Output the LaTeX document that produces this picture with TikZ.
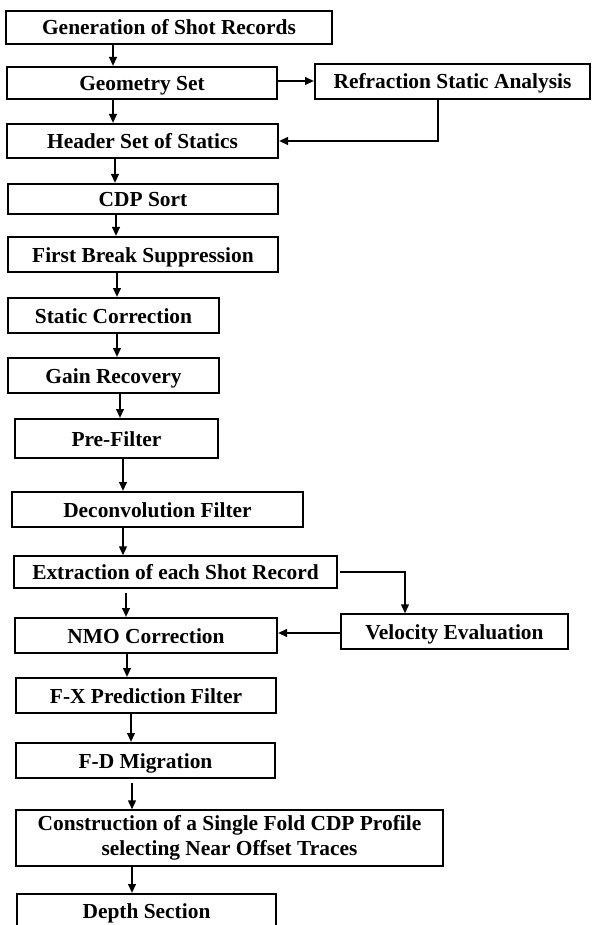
\documentclass[tikz,border=0pt]{standalone}
\usepackage{fontspec}
\setmainfont{Liberation Serif}
\usetikzlibrary{arrows.meta, positioning}

\begin{document}
\begin{tikzpicture}[x=0.5pt, y=-0.5pt,
			->,
			>={Triangle[length=4.5pt, width=3.8pt]},
			line width=1pt,
			box/.style={draw, inner sep=0pt, align=center, text height=8pt, text depth=0.5pt, font=\fontsize{10.7}{12.5}\selectfont\bfseries},
			thinbox/.style={box, line width=0.6pt}]

			\clip (0,0) rectangle (592,925);

			\node[box, minimum width=163pt, minimum height=16.5pt] (gen) at (169,27.5) {Generation of Shot Records};
			\node[box, minimum width=135pt, minimum height=16pt] (geom) at (142,83) {Geometry Set};
			\node[box, minimum width=137.5pt, minimum height=17.5pt] (refr) at (452.5,81.5) {Refraction Static Analysis};
			\node[box, minimum width=135.5pt, minimum height=17pt] (head) at (142.5,141) {Header Set of Statics};
			\node[box, minimum width=135pt, minimum height=15pt] (cdp) at (143,199) {CDP Sort};
			\node[box, minimum width=135pt, minimum height=17.5pt] (first) at (143,254.5) {First Break Suppression};
			\node[box, minimum width=105.5pt, minimum height=17.5pt] (stat) at (113.5,315.5) {Static Correction};
			\node[box, minimum width=105.5pt, minimum height=17.5pt] (gain) at (113.5,375.5) {Gain Recovery};
			\node[box, minimum width=101.5pt, minimum height=19.5pt] (pre) at (116.5,438.5) {Pre-Filter};
			\node[box, minimum width=145.5pt, minimum height=17.5pt] (decon) at (157.5,509.5) {Deconvolution Filter};
			\node[thinbox, minimum width=161.5pt, minimum height=16pt] (extr) at (175.5,572) {Extraction of each Shot Record};
			\node[box, minimum width=131pt, minimum height=17.5pt] (nmo) at (146,635.5) {NMO Correction};
			\node[thinbox, minimum width=113.5pt, minimum height=17.5pt] (velo) at (454.5,631.5) {Velocity Evaluation};
			\node[box, minimum width=130pt, minimum height=17.5pt] (fx) at (146,695.5) {F-X Prediction Filter};
			\node[box, minimum width=129.5pt, minimum height=17.5pt] (fd) at (145.5,760.5) {F-D Migration};
			\node[thinbox, text height=, text depth=, minimum width=213.5pt, minimum height=28pt] (constr) at (229.5,838) {Construction of a Single Fold CDP Profile\\selecting Near Offset Traces};
			\node[box, minimum width=129.5pt, minimum height=17pt] (depth) at (146.5,911) {Depth Section};

			\draw (gen.south -| 113,0) -- (geom.north -| 113,0);
			\draw (geom.east |- 0,81) -- (refr.west |- 0,81);
			\draw (geom.south -| 113,0) -- (head.north -| 113,0);
			\draw (refr.south -| 438,0) |- (head.east);
			\draw (head.south -| 115,0) -- (cdp.north -| 115,0);
			\draw (cdp.south -| 116,0) -- (first.north -| 116,0);
			\draw (first.south -| 117,0) -- (stat.north -| 117,0);
			\draw (stat.south -| 117,0) -- (gain.north -| 117,0);
			\draw (gain.south -| 120,0) -- (pre.north -| 120,0);
			\draw (pre.south -| 123,0) -- (decon.north -| 123,0);
			\draw (decon.south -| 123,0) -- (extr.north -| 123,0);
			\draw[shorten <=2pt] (extr.south -| 126,0) -- (nmo.north -| 126,0);
			\draw[shorten <=1pt] (extr.east) -| (velo.north -| 405,0);
			\draw (velo.west |- 0,633) -- (nmo.east |- 0,633);
			\draw (nmo.south -| 127,0) -- (fx.north -| 127,0);
			\draw (fx.south -| 131,0) -- (fd.north -| 131,0);
			\draw[shorten <=2pt] (fd.south -| 132,0) -- (constr.north -| 132,0);
			\draw (constr.south -| 132,0) -- (depth.north -| 132,0);
		\end{tikzpicture}
\end{document}
